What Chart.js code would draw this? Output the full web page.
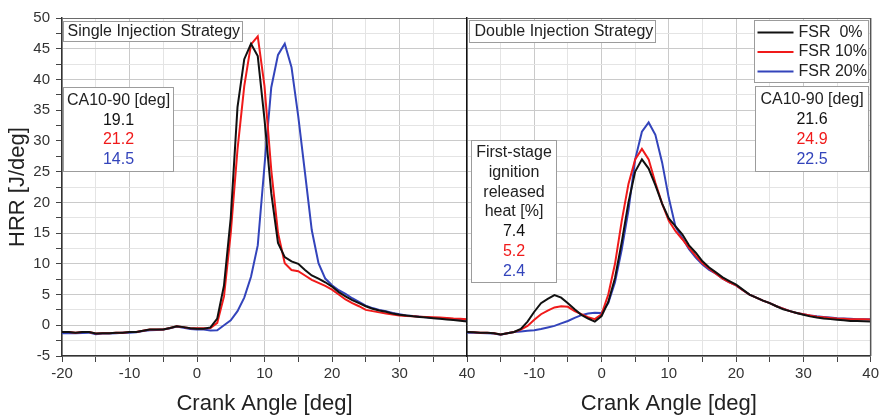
<!DOCTYPE html>
<html><head><meta charset="utf-8">
<script src="https://cdn.jsdelivr.net/npm/chart.js@4/dist/chart.umd.min.js"></script>
<style>
html,body{margin:0;padding:0;background:#fff;width:882px;height:417px;overflow:hidden}
.wrap{position:absolute;top:0;height:417px}
#w1{left:0;width:482px}
#w2{left:440px;width:442px}
</style></head><body>
<div class="wrap" id="w1"><canvas id="c1" width="482" height="417"></canvas></div>
<div class="wrap" id="w2"><canvas id="c2" width="442" height="417"></canvas></div>
<script>
// ---- data ----
const crankAngle = [-20,-19,-18,-17,-16,-15,-14,-13,-12,-11,-10,-9,-8,-7,-6,-5,-4,-3,-2,-1,0,1,2,3,4,5,6,7,8,9,10,11,12,13,14,15,16,17,18,19,20,21,22,23,24,25,26,27,28,29,30,31,32,33,34,35,36,37,38,39,40];
const seriesLabels = ['FSR  0%', 'FSR 10%', 'FSR 20%'];
const seriesColors = ['#111111', '#f01a1a', '#3344bb'];

// Single injection strategy, HRR [J/deg]
const singleFSR0 = [-1.1,-1.1,-1.2,-1.1,-1.1,-1.35,-1.3,-1.3,-1.2,-1.2,-1.1,-1.1,-0.9,-0.7,-0.7,-0.7,-0.45,-0.15,-0.3,-0.5,-0.55,-0.55,-0.35,1.1,6.5,17.5,35.5,43.3,45.8,43.8,33.5,21.5,13.4,11.1,10.4,10.0,9.0,8.1,7.6,7.0,6.3,5.4,4.7,4.1,3.6,3.1,2.7,2.4,2.2,1.9,1.7,1.6,1.45,1.35,1.25,1.15,1.05,0.95,0.85,0.75,0.6];
const singleFSR10 = [-1.1,-1.1,-1.2,-1.1,-1.1,-1.35,-1.3,-1.3,-1.2,-1.2,-1.1,-1.1,-0.9,-0.7,-0.7,-0.7,-0.45,-0.15,-0.3,-0.5,-0.5,-0.5,-0.45,0.4,4.7,15.0,28.6,38.9,45.7,47.0,38.9,25.3,15.0,10.1,9.0,8.8,8.1,7.4,6.9,6.4,5.8,5.0,4.2,3.6,3.1,2.5,2.3,2.1,1.9,1.75,1.6,1.5,1.45,1.4,1.35,1.3,1.25,1.2,1.1,1.05,1.0];
const singleFSR20 = [-1.3,-1.3,-1.3,-1.25,-1.2,-1.45,-1.35,-1.35,-1.3,-1.2,-1.2,-1.15,-0.95,-0.8,-0.75,-0.7,-0.5,-0.2,-0.4,-0.6,-0.7,-0.7,-0.85,-0.8,0.0,0.8,2.3,4.5,7.9,13.0,26.0,38.7,44.0,45.8,42.0,34.0,24.8,15.5,10.1,7.6,6.5,5.7,5.1,4.4,3.8,3.2,2.8,2.5,2.3,2.0,1.8,1.6,1.5,1.4,1.3,1.2,1.15,1.1,1.0,0.95,0.9];

// Double injection strategy, HRR [J/deg]
const doubleFSR0 = [-1.1,-1.15,-1.2,-1.2,-1.3,-1.5,-1.3,-1.1,-0.6,0.6,2.2,3.6,4.3,4.9,4.5,3.6,2.6,1.7,1.1,0.6,1.5,3.8,7.7,13.5,20.0,25.0,27.0,25.5,22.8,19.8,17.4,16.1,14.8,13.0,11.8,10.4,9.4,8.6,7.8,7.2,6.6,5.8,5.0,4.5,4.0,3.6,3.1,2.6,2.3,2.0,1.7,1.45,1.25,1.1,1.0,0.9,0.8,0.7,0.7,0.65,0.6];
const doubleFSR10 = [-1.1,-1.15,-1.2,-1.2,-1.3,-1.5,-1.3,-1.1,-0.7,-0.1,0.9,1.8,2.4,2.9,3.1,3.0,2.3,1.8,1.3,1.0,1.8,5.0,10.0,17.0,23.0,27.0,28.7,27.0,23.2,19.8,17.0,15.3,14.0,12.6,11.3,10.1,9.2,8.4,7.6,7.0,6.5,5.7,5.0,4.5,4.0,3.6,3.1,2.7,2.3,2.0,1.8,1.6,1.4,1.3,1.2,1.1,1.05,1.0,1.0,1.0,0.95];
const doubleFSR20 = [-1.2,-1.2,-1.25,-1.3,-1.35,-1.55,-1.3,-1.1,-1.0,-0.9,-0.8,-0.6,-0.35,-0.1,0.3,0.7,1.2,1.65,1.9,2.05,2.0,3.6,7.0,12.3,18.7,27.0,31.5,33.0,31.0,26.5,20.7,16.0,14.2,12.4,11.0,9.9,9.0,8.4,7.6,7.0,6.5,5.7,5.0,4.5,4.0,3.6,3.1,2.7,2.3,2.0,1.8,1.6,1.45,1.35,1.25,1.15,1.1,1.05,1.0,1.0,1.0];

const ca1090Single = ['19.1', '21.2', '14.5'];
const ca1090Double = ['21.6', '24.9', '22.5'];
const firstStageHeat = ['7.4', '5.2', '2.4'];

// ---- helpers ----
const FONT = '"Liberation Sans", Arial, Helvetica, sans-serif';
function toPoints(ys) { return crankAngle.map((x, i) => ({ x: x, y: ys[i] })); }
function makeDatasets(arrs) {
  return arrs.map((ys, i) => ({
    label: seriesLabels[i], data: toPoints(ys), borderColor: seriesColors[i],
    borderWidth: 2, pointRadius: 0, tension: 0, fill: false
  }));
}
function drawBox(ctx, area, b) {
  const x = Math.round(area.left + b.dx) + 0.5, y = Math.round(area.top + b.dy) + 0.5;
  ctx.save();
  ctx.fillStyle = '#fff'; ctx.fillRect(x, y, b.w, b.h);
  ctx.strokeStyle = '#9c9c9c'; ctx.lineWidth = 1; ctx.strokeRect(x, y, b.w, b.h);
  ctx.font = '16px ' + FONT;
  ctx.textBaseline = 'middle';
  b.lines.forEach((ln, i) => {
    const ty = y + b.first + i * b.step;
    if (ln.swatch) {
      ctx.strokeStyle = ln.swatch; ctx.lineWidth = 2;
      ctx.beginPath(); ctx.moveTo(x + 3, ty); ctx.lineTo(x + 39, ty); ctx.stroke();
      ctx.fillStyle = '#222'; ctx.textAlign = 'left';
      ctx.fillText(ln.text, x + 44, ty);
    } else {
      ctx.fillStyle = ln.color || '#222';
      if (b.align === 'center') { ctx.textAlign = 'center'; ctx.fillText(ln.text, x + b.w / 2, ty); }
      else { ctx.textAlign = 'left'; ctx.fillText(ln.text, x + b.padX, ty); }
    }
  });
  ctx.restore();
}
function panelPlugin(boxes, rightColor) {
  return {
    id: 'panel',
    beforeDatasetsDraw(chart) {
      boxes.forEach(b => drawBox(chart.ctx, chart.chartArea, b));
    },
    afterDatasetsDraw(chart) {
      const ctx = chart.ctx, a = chart.chartArea;
      ctx.save();
      ctx.strokeStyle = '#6a6a6a'; ctx.lineWidth = 1.2;
      ctx.beginPath(); ctx.moveTo(a.left, a.top + 0.5); ctx.lineTo(a.right, a.top + 0.5); ctx.stroke();
      ctx.strokeStyle = rightColor; ctx.lineWidth = 1.5;
      ctx.beginPath(); ctx.moveTo(a.right, a.top); ctx.lineTo(a.right, a.bottom); ctx.stroke();
      ctx.restore();
    }
  };
}
const coloured = vals => vals.map((t, i) => ({ text: t, color: seriesColors[i] }));

function makeOptions(isLeft, hideFirstX, padRight, yWidth) {
  return {
    responsive: false, animation: false, devicePixelRatio: 1,
    layout: { padding: { top: 18, right: padRight, bottom: 0, left: 0 } },
    plugins: { legend: { display: false }, tooltip: { enabled: false } },
    scales: {
      x: {
        type: 'linear', min: -20, max: 40,
        afterFit: s => { s.height = 61; },
        ticks: {
          stepSize: 5, autoSkip: false, maxRotation: 0, padding: 3,
          color: '#333', font: { family: FONT, size: 15 },
          callback: v => (v % 10 === 0 && !(hideFirstX && v === -20)) ? String(v) : ''
        },
        grid: {
          color: c => (c.tick && c.tick.value % 10 === 0) ? '#cacaca' : '#e4e4e4',
          tickColor: '#444', tickLength: 6, lineWidth: 1
        },
        border: { color: '#333', width: 1.5 },
        title: { display: true, text: 'Crank Angle [deg]', color: '#222',
          font: { family: FONT, size: 22 }, padding: { top: 0, bottom: 0 } }
      },
      y: {
        type: 'linear', min: -5, max: 50,
        afterFit: s => { s.width = yWidth; },
        ticks: {
          display: isLeft, stepSize: 2.5, autoSkip: false, padding: 6,
          color: '#333', font: { family: FONT, size: 15 },
          callback: v => (Math.abs(v % 5) < 1e-9) ? String(v) : ''
        },
        grid: {
          color: c => (c.tick && Math.abs(c.tick.value % 5) < 1e-9) ? '#cacaca' : '#e4e4e4',
          tickColor: '#444', tickLength: 6, drawTicks: isLeft, lineWidth: 1
        },
        border: { color: isLeft ? '#333' : '#111', width: 1.5 },
        title: { display: isLeft, text: 'HRR [J/deg]', color: '#222',
          font: { family: FONT, size: 22 }, padding: { top: 5, bottom: 0 } }
      }
    }
  };
}

const leftBoxes = [
  { dx: 1, dy: 3, w: 179, h: 20, padX: 4, first: 10, step: 0, lines: [{ text: 'Single Injection Strategy' }] },
  { dx: 1, dy: 69, w: 110, h: 84, align: 'center', first: 13, step: 19.7,
    lines: [{ text: 'CA10-90 [deg]' }].concat(coloured(ca1090Single)) }
];
const rightBoxes = [
  { dx: 2, dy: 2, w: 186, h: 22, padX: 5, first: 11, step: 0, lines: [{ text: 'Double Injection Strategy' }] },
  { dx: 287, dy: 2, w: 114, h: 62, first: 12, step: 19.5,
    lines: seriesLabels.map((t, i) => ({ text: t, swatch: seriesColors[i] })) },
  { dx: 288, dy: 68, w: 113, h: 85, align: 'center', first: 13, step: 20,
    lines: [{ text: 'CA10-90 [deg]' }].concat(coloured(ca1090Double)) },
  { dx: 4, dy: 122, w: 85, h: 142, align: 'center', first: 12, step: 19.8,
    lines: [{ text: 'First-stage' }, { text: 'ignition' }, { text: 'released' }, { text: 'heat [%]' }]
      .concat(coloured(firstStageHeat)) }
];

new Chart(document.getElementById('c1'), {
  type: 'line',
  data: { datasets: makeDatasets([singleFSR0, singleFSR10, singleFSR20]) },
  options: makeOptions(true, false, 15, 62),
  plugins: [panelPlugin(leftBoxes, '#111')]
});
new Chart(document.getElementById('c2'), {
  type: 'line',
  data: { datasets: makeDatasets([doubleFSR0, doubleFSR10, doubleFSR20]) },
  options: makeOptions(false, true, 10, 27),
  plugins: [panelPlugin(rightBoxes, '#555')]
});
</script>
</body></html>
